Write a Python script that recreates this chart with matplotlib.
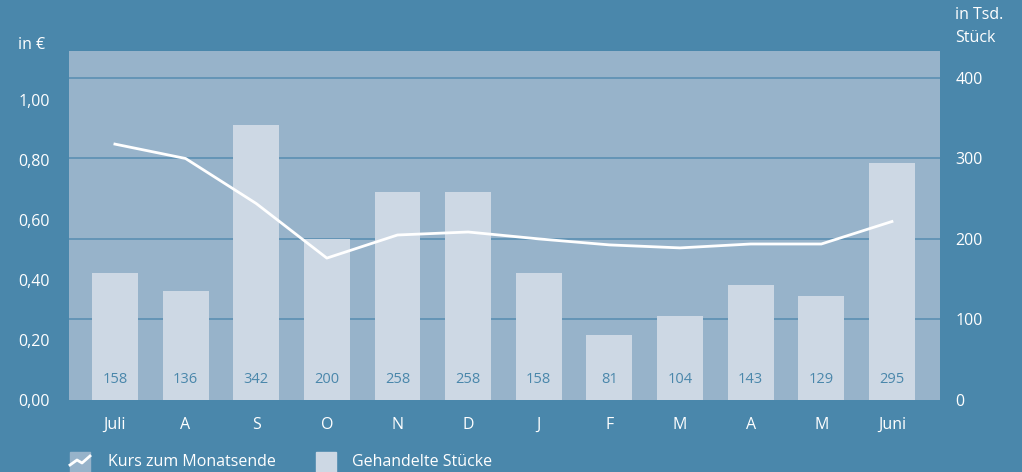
import matplotlib.pyplot as plt
import matplotlib.patches as mpatches
from matplotlib.lines import Line2D
import numpy as np

months = ['Juli', 'A', 'S', 'O', 'N', 'D', 'J', 'F', 'M', 'A', 'M', 'Juni']
stuecke = [158, 136, 342, 200, 258, 258, 158, 81, 104, 143, 129, 295]
kurs = [0.853, 0.805, 0.655, 0.473, 0.55, 0.56, 0.537, 0.517, 0.507, 0.52, 0.52, 0.595]

bg = '#4a87ab'
plot_bg = '#97b3ca'
bar_col = '#cdd8e4'
fs = 11.5

plt.rcParams['font.family'] = ['Open Sans', 'DejaVu Sans']

fig = plt.figure(figsize=(10.22, 4.72), dpi=100, facecolor=bg)
ax2 = fig.add_axes([69/1022, 72/472, 871/1022, 349/472])
ax = ax2.twinx()
ax2.set_zorder(0)
ax.set_zorder(1)
ax.patch.set_visible(False)

x = np.arange(len(months))
ax2.set_facecolor(plot_bg)
ax2.bar(x, stuecke, width=0.65, color=bar_col, zorder=2)
for xi, v in zip(x, stuecke):
    ax2.text(xi, 26, str(v), ha='center', va='center', color=bg, fontsize=10.5, zorder=3)
ax2.set_ylim(0, 433.5)
ax2.set_xlim(-0.65, 11.68)
for g in [100, 200, 300, 400]:
    ax2.axhline(g, color='#5b8fb3', lw=1.2, zorder=1)

ax.plot(x, kurs, color='white', lw=2, zorder=4)
ax.set_ylim(0, 1.1633)

# Stück on the right, Kurs on the left
ax2.yaxis.tick_right()
ax2.set_yticks([0, 100, 200, 300, 400])
ax2.set_yticklabels(['0', '100', '200', '300', '400'])
ax.yaxis.tick_left()
ax.set_yticks([0, 0.2, 0.4, 0.6, 0.8, 1.0])
ax.set_yticklabels(['0,00', '0,20', '0,40', '0,60', '0,80', '1,00'])

ax2.set_xticks(x)
ax2.set_xticklabels(months)
for a in (ax, ax2):
    a.tick_params(length=0, colors='white', labelsize=fs)
    for s in a.spines.values():
        s.set_visible(False)
ax2.tick_params(axis='x', pad=12)
ax2.tick_params(axis='y', pad=11)
ax.tick_params(axis='y', pad=14)

fig.text(18/1022, 1 - 45/472, 'in €', color='white', fontsize=fs, va='center')
fig.text(955/1022, 1 - 15/472, 'in Tsd.', color='white', fontsize=fs, va='center')
fig.text(955/1022, 1 - 38/472, 'Stück', color='white', fontsize=fs, va='center')

# legend
fig.patches.append(mpatches.Rectangle((70/1022, 0), 20/1022, 20/472,
                                      transform=fig.transFigure, color=plot_bg))
fig.lines.append(Line2D([70/1022, 77/1022, 82/1022, 90/1022],
                        [1 - 465/472, 1 - 460/472, 1 - 463/472, 1 - 456/472],
                        transform=fig.transFigure, color='white', lw=2))
fig.text(108/1022, 1 - 462/472, 'Kurs zum Monatsende', color='white', fontsize=fs, va='center')
fig.patches.append(mpatches.Rectangle((316/1022, 0), 20/1022, 20/472,
                                      transform=fig.transFigure, color=bar_col))
fig.text(352/1022, 1 - 462/472, 'Gehandelte Stücke', color='white', fontsize=fs, va='center')

fig.savefig('out.png', dpi=100, facecolor=bg)
